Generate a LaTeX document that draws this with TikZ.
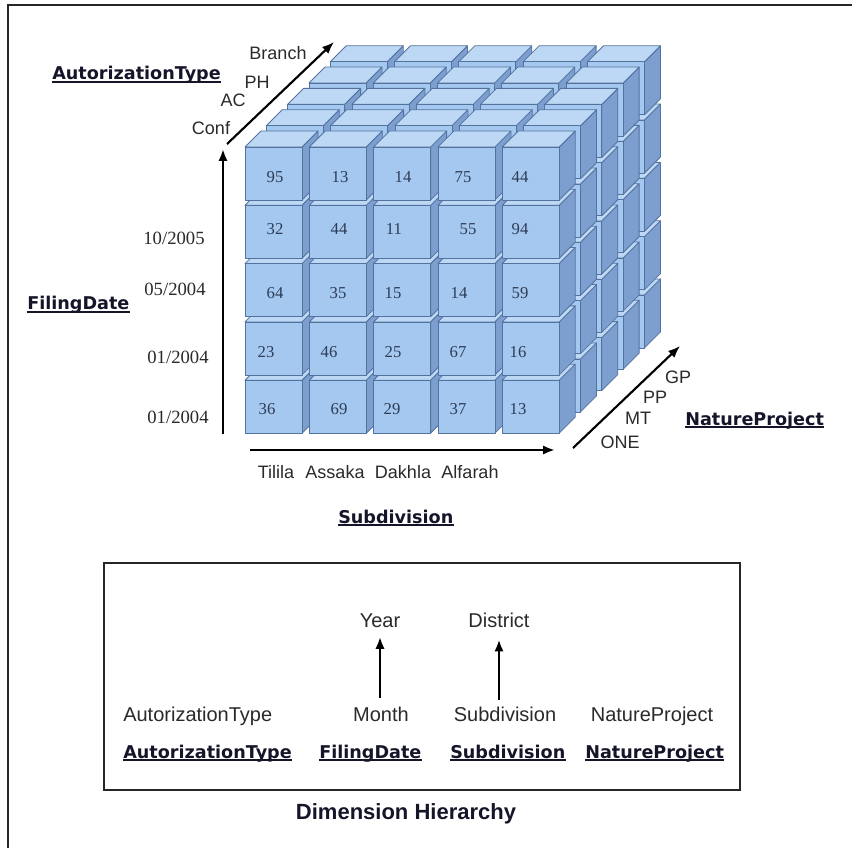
\documentclass[tikz,border=0pt]{standalone}
\usepackage{fontspec}
\setmainfont{Liberation Sans}
\newfontfamily\vfam{DejaVu Sans}
\newfontfamily\numfont{Liberation Serif}
\usetikzlibrary{arrows.meta}
\definecolor{cfront}{HTML}{A4C8EF}
\definecolor{ctop}{HTML}{BDD8F5}
\definecolor{cside}{HTML}{7D9FD0}
\definecolor{cedge}{HTML}{54729E}
\definecolor{cnum}{HTML}{2E3B55}
\definecolor{txt}{HTML}{2A2A2A}
\definecolor{txtb}{HTML}{15152A}
\tikzset{
  cubeln/.style={draw=cedge, line width=0.6pt, line join=round},
  lbl/.style={font=\fontsize{13.5}{15}\selectfont, text=txt, inner sep=0pt},
  blbl/.style={font=\vfam\bfseries\fontsize{13.2}{15}\selectfont, text=txtb, inner sep=0pt},
  hlbl/.style={font=\fontsize{15}{17}\selectfont, text=txt, inner sep=0pt},
  datelbl/.style={font=\numfont\fontsize{14}{16}\selectfont, text=txt, inner sep=0pt},
  numlbl/.style={font=\numfont\fontsize{12.5}{14}\selectfont, text=cnum, inner sep=0pt},
  axis/.style={line width=2.2pt, -{Latex[length=9pt,width=7pt]}},
  daxis/.style={line width=1.6pt, -{Latex[length=9pt,width=7pt]}},
  uline/.style={line width=1.1pt, txtb},
}
\begin{document}
\begin{tikzpicture}[x=0.75pt,y=-0.75pt]
\useasboundingbox (0,0) rectangle (852,848);
\fill[white] (0,0) rectangle (852,848);
% outer frame
\draw[line width=1.6pt, black!85] (8,848) -- (8,5) -- (852,5);

% cubes
\foreach \k in {4,3,2,1,0} {
  \foreach \j in {4,3,2,1,0} {
    \foreach \i in {0,1,2,3,4} {
      \pgfmathsetmacro\X{245+64.3*\i+21.3*\k}
      \pgfmathsetmacro\Y{147+58.3*\j-21.3*\k}
      \draw[cubeln, fill=cside] (\X+57,\Y) -- ++(16,-16) -- ++(0,53) -- ++(-16,16) -- cycle;
      \draw[cubeln, fill=ctop] (\X,\Y) -- ++(16,-16) -- ++(57,0) -- ++(-16,16) -- cycle;
      \draw[cubeln, fill=cfront] (\X,\Y) rectangle ++(57,53);
    }
  }
}

% cell values
\node[numlbl] (c11) at (275,177) {95};
\node[numlbl] (c12) at (340,177) {13};
\node[numlbl] (c13) at (403,177) {14};
\node[numlbl] (c14) at (463,177) {75};
\node[numlbl] (c15) at (520,177) {44};
\node[numlbl] (c21) at (275,229) {32};
\node[numlbl] (c22) at (339,229) {44};
\node[numlbl] (c23) at (394,229) {11};
\node[numlbl] (c24) at (468,229) {55};
\node[numlbl] (c25) at (520,229) {94};
\node[numlbl] (c31) at (275,293) {64};
\node[numlbl] (c32) at (338,293) {35};
\node[numlbl] (c33) at (393,293) {15};
\node[numlbl] (c34) at (459,293) {14};
\node[numlbl] (c35) at (520,293) {59};
\node[numlbl] (c41) at (266,352) {23};
\node[numlbl] (c42) at (329,352) {46};
\node[numlbl] (c43) at (393,352) {25};
\node[numlbl] (c44) at (458,352) {67};
\node[numlbl] (c45) at (518,352) {16};
\node[numlbl] (c51) at (267,409) {36};
\node[numlbl] (c52) at (339,409) {69};
\node[numlbl] (c53) at (392,409) {29};
\node[numlbl] (c54) at (458,409) {37};
\node[numlbl] (c55) at (518,409) {13};

% axes
\coordinate (vS) at (223,434);
\coordinate (vE) at (223,149);
\coordinate (hS) at (250,450);
\coordinate (hE) at (555,450);
\coordinate (dS) at (227,144);
\coordinate (dE) at (334,42);
\coordinate (rS) at (573,448);
\coordinate (rE) at (680,346);
\draw[axis] (vS) -- (vE);
\draw[axis] (hS) -- (hE);
\draw[daxis] (dS) -- (dE);
\draw[daxis] (rS) -- (rE);

% AutorizationType axis labels
\node[lbl] (lbr) at (278,53) {Branch};
\node[lbl] (lph) at (257,82) {PH};
\node[lbl] (lac) at (233,100) {AC};
\node[lbl] (lcf) at (211,128) {Conf};
\node[blbl, anchor=base west] (tat) at (52,80) {AutorizationType};
\draw[uline] ([yshift=-1.6pt]tat.base west) -- ([yshift=-1.6pt]tat.base east);

% FilingDate labels
\node[datelbl] (d1) at (174,238) {10/2005};
\node[datelbl] (d2) at (175,289) {05/2004};
\node[datelbl] (d3) at (178,357) {01/2004};
\node[datelbl] (d4) at (178,417) {01/2004};
\node[blbl, anchor=base west] (tfd) at (27,310) {FilingDate};
\draw[uline] ([yshift=-1.6pt]tfd.base west) -- ([yshift=-1.6pt]tfd.base east);

% Subdivision labels
\node[lbl] (s1) at (276,472) {Tilila};
\node[lbl] (s2) at (335,472) {Assaka};
\node[lbl] (s3) at (403,472) {Dakhla};
\node[lbl] (s4) at (470,472) {Alfarah};
\node[blbl, anchor=base west] (tsd) at (338,523) {Subdivision};
\draw[uline] ([yshift=-1.6pt]tsd.base west) -- ([yshift=-1.6pt]tsd.base east);

% NatureProject labels
\node[lbl] (n1) at (678,377) {GP};
\node[lbl] (n2) at (655,397) {PP};
\node[lbl] (n3) at (638,418) {MT};
\node[lbl] (n4) at (620,442) {ONE};
\node[blbl, anchor=base west] (tnp) at (685,425) {NatureProject};
\draw[uline] ([yshift=-1.6pt]tnp.base west) -- ([yshift=-1.6pt]tnp.base east);

% Dimension hierarchy box
\draw[line width=1.5pt, black!85] (104,563) rectangle (740,790);
\node[hlbl, anchor=base] (year) at (380,627) {Year};
\node[hlbl, anchor=base] (dist) at (499,627) {District};
\node[hlbl, anchor=base west] (hat) at (123,721) {AutorizationType};
\node[hlbl, anchor=base] (month) at (381,721) {Month};
\node[hlbl, anchor=base] (hsub) at (505,721) {Subdivision};
\node[hlbl, anchor=base] (hnp) at (652,721) {NatureProject};
\coordinate (mS) at ([yshift=6pt]month.north);
\coordinate (sS) at ([yshift=5pt]hsub.north);
\draw[axis] (mS -| year) -- ([yshift=-7pt]year.south);
\draw[axis] (sS -| dist) -- ([yshift=-9pt]dist.south);

\node[blbl, anchor=base west] (bat) at (123,758) {AutorizationType};
\node[blbl, anchor=base west] (bfd) at (319,758) {FilingDate};
\node[blbl, anchor=base west] (bsd) at (450,758) {Subdivision};
\node[blbl, anchor=base west] (bnp) at (585,758) {NatureProject};
\foreach \n in {bat,bfd,bsd,bnp}
  \draw[uline] ([yshift=-1.6pt]\n.base west) -- ([yshift=-1.6pt]\n.base east);

\node[font=\bfseries\fontsize{16.5}{18}\selectfont, text=txtb, inner sep=0pt, anchor=base] (dh) at (406,819) {Dimension Hierarchy};
\end{tikzpicture}
\end{document}
